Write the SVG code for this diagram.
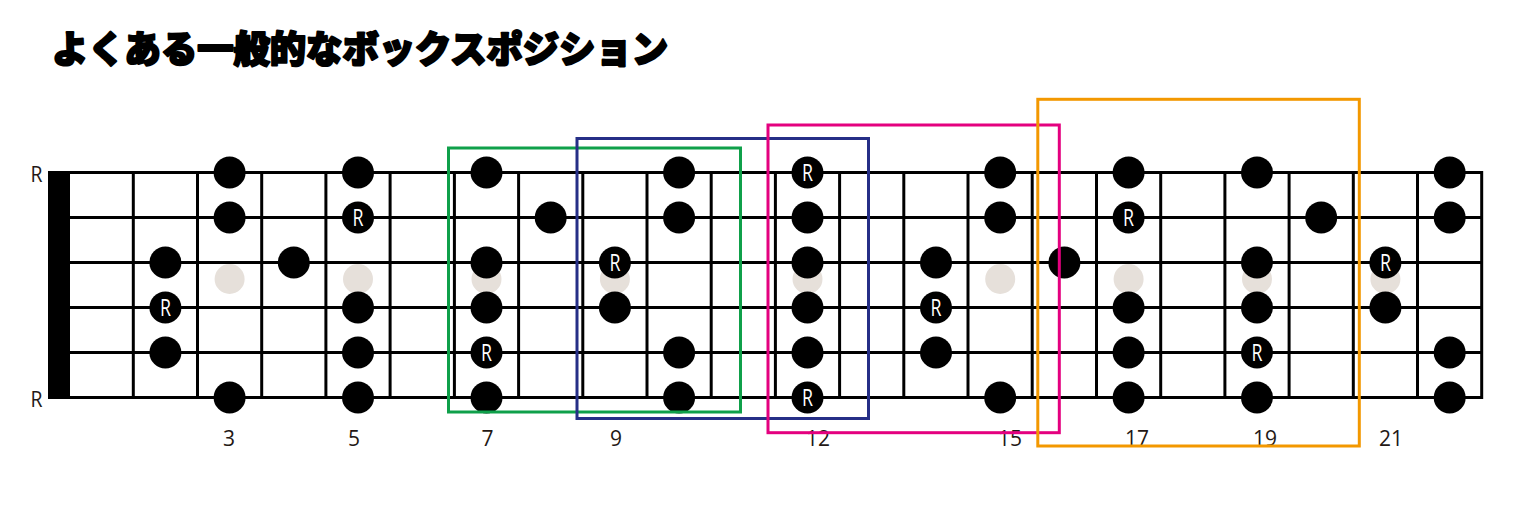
<svg xmlns="http://www.w3.org/2000/svg" xmlns:xlink="http://www.w3.org/1999/xlink" width="1536" height="517" viewBox="0 0 1536 517">
  <defs>
    <style>
      .title { font-family: "Noto Sans CJK JP", "Noto Sans", sans-serif; font-weight: 900; font-size: 37px; fill: #000; stroke: #000; stroke-width: 2.2px; stroke-linejoin: round; }
      .str { stroke: #000; stroke-width: 3; }
      .fret { stroke: #000; stroke-width: 3; }
      .inlay { fill: #e6e0da; }
      .dot { fill: #000; }
      .rdot { font-family: "Open Sans", "Noto Sans", sans-serif; font-size: 24px; fill: #fff; text-anchor: middle; }
      .lbl { font-family: "Open Sans", "Noto Sans", sans-serif; font-size: 21px; fill: #231815; text-anchor: middle; }
      .box { fill: none; stroke-width: 3; }
    </style>
    <circle id="d" r="16" class="dot"/>
    <circle id="inl" r="15" class="inlay"/>
  </defs>
  <rect width="1536" height="517" fill="#fff"/>

  <g id="title">
    <text class="title" x="52" y="63" textLength="616" lengthAdjust="spacingAndGlyphs">よくある一般的なボックスポジション</text>
  </g>

  <g id="inlays">
    <use href="#inl" x="229.6" y="279"/>
    <use href="#inl" x="358.0" y="279"/>
    <use href="#inl" x="486.5" y="279"/>
    <use href="#inl" x="614.9" y="279"/>
    <use href="#inl" x="807.5" y="279"/>
    <use href="#inl" x="1000.2" y="279"/>
    <use href="#inl" x="1128.6" y="279"/>
    <use href="#inl" x="1257.0" y="279"/>
    <use href="#inl" x="1385.4" y="279"/>
  </g>

  <g id="fretboard">
    <rect id="nut" x="48" y="171" width="22" height="228" fill="#000"/>
    <g id="strings">
      <line class="str" x1="48" y1="172.5" x2="1483" y2="172.5"/>
      <line class="str" x1="48" y1="217.5" x2="1483" y2="217.5"/>
      <line class="str" x1="48" y1="262.5" x2="1483" y2="262.5"/>
      <line class="str" x1="48" y1="307.5" x2="1483" y2="307.5"/>
      <line class="str" x1="48" y1="352.5" x2="1483" y2="352.5"/>
      <line class="str" x1="48" y1="397.5" x2="1483" y2="397.5"/>
    </g>
    <g id="frets">
      <line class="fret" x1="133.3" y1="171" x2="133.3" y2="399"/>
      <line class="fret" x1="197.5" y1="171" x2="197.5" y2="399"/>
      <line class="fret" x1="261.7" y1="171" x2="261.7" y2="399"/>
      <line class="fret" x1="325.9" y1="171" x2="325.9" y2="399"/>
      <line class="fret" x1="390.1" y1="171" x2="390.1" y2="399"/>
      <line class="fret" x1="454.4" y1="171" x2="454.4" y2="399"/>
      <line class="fret" x1="518.6" y1="171" x2="518.6" y2="399"/>
      <line class="fret" x1="582.8" y1="171" x2="582.8" y2="399"/>
      <line class="fret" x1="647.0" y1="171" x2="647.0" y2="399"/>
      <line class="fret" x1="711.2" y1="171" x2="711.2" y2="399"/>
      <line class="fret" x1="775.4" y1="171" x2="775.4" y2="399"/>
      <line class="fret" x1="839.6" y1="171" x2="839.6" y2="399"/>
      <line class="fret" x1="903.8" y1="171" x2="903.8" y2="399"/>
      <line class="fret" x1="968.0" y1="171" x2="968.0" y2="399"/>
      <line class="fret" x1="1032.2" y1="171" x2="1032.2" y2="399"/>
      <line class="fret" x1="1096.5" y1="171" x2="1096.5" y2="399"/>
      <line class="fret" x1="1160.7" y1="171" x2="1160.7" y2="399"/>
      <line class="fret" x1="1224.9" y1="171" x2="1224.9" y2="399"/>
      <line class="fret" x1="1289.1" y1="171" x2="1289.1" y2="399"/>
      <line class="fret" x1="1353.3" y1="171" x2="1353.3" y2="399"/>
      <line class="fret" x1="1417.5" y1="171" x2="1417.5" y2="399"/>
      <line class="fret" x1="1481.7" y1="171" x2="1481.7" y2="399"/>
    </g>
  </g>

  <g id="string-labels">
    <text class="lbl" x="36.5" y="181.5" textLength="12" lengthAdjust="spacingAndGlyphs">R</text>
    <text class="lbl" x="36.5" y="406.5" textLength="12" lengthAdjust="spacingAndGlyphs">R</text>
  </g>

  <g id="notes">
    <g id="fret2">
      <use href="#d" x="165.4" y="262.5"/>
      <use href="#d" x="165.4" y="307.5"/>
      <text class="rdot" x="165.4" y="316" textLength="11" lengthAdjust="spacingAndGlyphs">R</text>
      <use href="#d" x="165.4" y="352.5"/>
    </g>
    <g id="fret3">
      <use href="#d" x="229.6" y="172.5"/>
      <use href="#d" x="229.6" y="217.5"/>
      <use href="#d" x="229.6" y="397.5"/>
    </g>
    <g id="fret4">
      <use href="#d" x="293.8" y="262.5"/>
    </g>
    <g id="fret5">
      <use href="#d" x="358.0" y="172.5"/>
      <use href="#d" x="358.0" y="217.5"/>
      <text class="rdot" x="358.0" y="226" textLength="11" lengthAdjust="spacingAndGlyphs">R</text>
      <use href="#d" x="358.0" y="307.5"/>
      <use href="#d" x="358.0" y="352.5"/>
      <use href="#d" x="358.0" y="397.5"/>
    </g>
    <g id="fret7">
      <use href="#d" x="486.5" y="172.5"/>
      <use href="#d" x="486.5" y="262.5"/>
      <use href="#d" x="486.5" y="307.5"/>
      <use href="#d" x="486.5" y="352.5"/>
      <text class="rdot" x="486.5" y="361" textLength="11" lengthAdjust="spacingAndGlyphs">R</text>
      <use href="#d" x="486.5" y="397.5"/>
    </g>
    <g id="fret8">
      <use href="#d" x="550.7" y="217.5"/>
    </g>
    <g id="fret9">
      <use href="#d" x="614.9" y="262.5"/>
      <text class="rdot" x="614.9" y="271" textLength="11" lengthAdjust="spacingAndGlyphs">R</text>
      <use href="#d" x="614.9" y="307.5"/>
    </g>
    <g id="fret10">
      <use href="#d" x="679.1" y="172.5"/>
      <use href="#d" x="679.1" y="217.5"/>
      <use href="#d" x="679.1" y="352.5"/>
      <use href="#d" x="679.1" y="397.5"/>
    </g>
    <g id="fret12">
      <use href="#d" x="807.5" y="172.5"/>
      <text class="rdot" x="807.5" y="181" textLength="11" lengthAdjust="spacingAndGlyphs">R</text>
      <use href="#d" x="807.5" y="217.5"/>
      <use href="#d" x="807.5" y="262.5"/>
      <use href="#d" x="807.5" y="307.5"/>
      <use href="#d" x="807.5" y="352.5"/>
      <use href="#d" x="807.5" y="397.5"/>
      <text class="rdot" x="807.5" y="406" textLength="11" lengthAdjust="spacingAndGlyphs">R</text>
    </g>
    <g id="fret14">
      <use href="#d" x="936.0" y="262.5"/>
      <use href="#d" x="936.0" y="307.5"/>
      <text class="rdot" x="936.0" y="316" textLength="11" lengthAdjust="spacingAndGlyphs">R</text>
      <use href="#d" x="936.0" y="352.5"/>
    </g>
    <g id="fret15">
      <use href="#d" x="1000.2" y="172.5"/>
      <use href="#d" x="1000.2" y="217.5"/>
      <use href="#d" x="1000.2" y="397.5"/>
    </g>
    <g id="fret16">
      <use href="#d" x="1064.4" y="262.5"/>
    </g>
    <g id="fret17">
      <use href="#d" x="1128.6" y="172.5"/>
      <use href="#d" x="1128.6" y="217.5"/>
      <text class="rdot" x="1128.6" y="226" textLength="11" lengthAdjust="spacingAndGlyphs">R</text>
      <use href="#d" x="1128.6" y="307.5"/>
      <use href="#d" x="1128.6" y="352.5"/>
      <use href="#d" x="1128.6" y="397.5"/>
    </g>
    <g id="fret19">
      <use href="#d" x="1257.0" y="172.5"/>
      <use href="#d" x="1257.0" y="262.5"/>
      <use href="#d" x="1257.0" y="307.5"/>
      <use href="#d" x="1257.0" y="352.5"/>
      <text class="rdot" x="1257.0" y="361" textLength="11" lengthAdjust="spacingAndGlyphs">R</text>
      <use href="#d" x="1257.0" y="397.5"/>
    </g>
    <g id="fret20">
      <use href="#d" x="1321.2" y="217.5"/>
    </g>
    <g id="fret21">
      <use href="#d" x="1385.4" y="262.5"/>
      <text class="rdot" x="1385.4" y="271" textLength="11" lengthAdjust="spacingAndGlyphs">R</text>
      <use href="#d" x="1385.4" y="307.5"/>
    </g>
    <g id="fret22">
      <use href="#d" x="1449.7" y="172.5"/>
      <use href="#d" x="1449.7" y="217.5"/>
      <use href="#d" x="1449.7" y="352.5"/>
      <use href="#d" x="1449.7" y="397.5"/>
    </g>
  </g>

  <g id="fret-numbers">
    <text class="lbl" x="229" y="446">3</text>
    <text class="lbl" x="354" y="446">5</text>
    <text class="lbl" x="487.5" y="446">7</text>
    <text class="lbl" x="616" y="446">9</text>
    <text class="lbl" x="818" y="446">12</text>
    <text class="lbl" x="1010" y="446">15</text>
    <text class="lbl" x="1137" y="446">17</text>
    <text class="lbl" x="1265" y="446">19</text>
    <text class="lbl" x="1391" y="446">21</text>
  </g>

  <g id="boxes">
    <g id="box-green"><rect class="box" x="448.5" y="148" width="292" height="264" stroke="#0fa04a"/></g>
    <g id="box-blue"><rect class="box" x="577" y="138.5" width="291.5" height="280" stroke="#262f87"/></g>
    <g id="box-pink"><rect class="box" x="768" y="125" width="291.3" height="307.7" stroke="#e4007f"/></g>
    <g id="box-orange"><rect class="box" x="1037.8" y="99.3" width="321.5" height="346.7" stroke="#f39800" stroke-width="3.5"/></g>
  </g>
</svg>
